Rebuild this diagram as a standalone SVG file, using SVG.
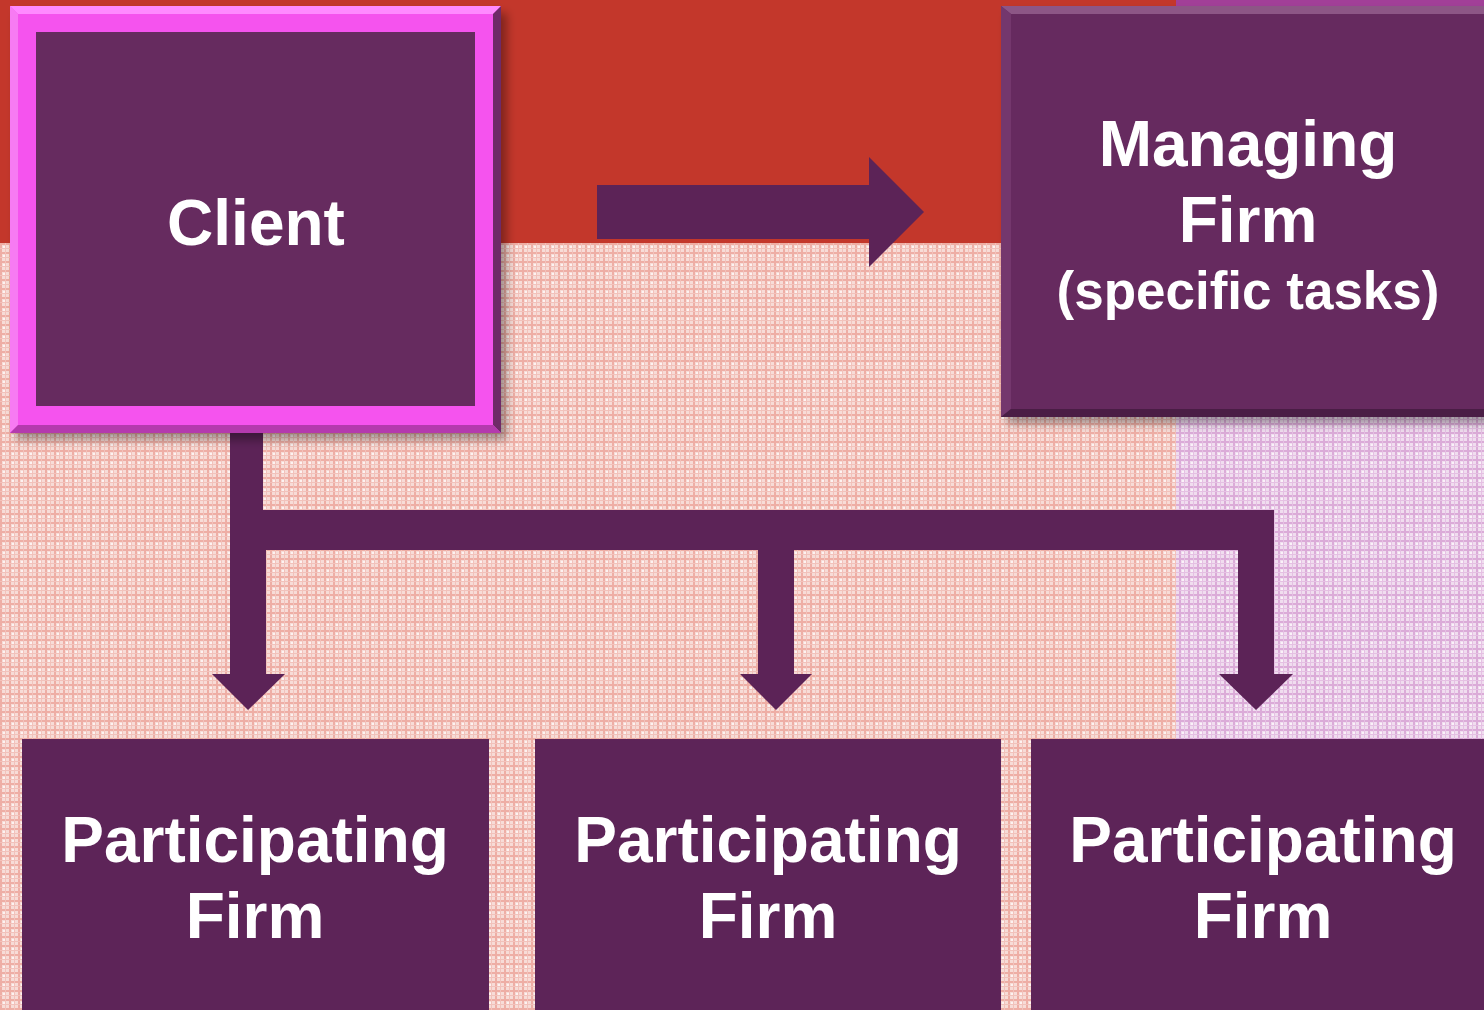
<svg xmlns="http://www.w3.org/2000/svg" width="1484" height="1010" viewBox="0 0 1484 1010">
<defs>
<pattern id="plaidL" width="9" height="9" patternUnits="userSpaceOnUse">
<rect width="9" height="9" fill="#F7DCD7"/>
<rect x="0" y="0" width="9" height="2" fill="#EEAEA5"/>
<rect x="0" y="0" width="2" height="9" fill="#EEAEA5"/>
<rect x="5" y="0" width="1" height="9" fill="#F2C2BB"/>
<rect x="0" y="5" width="9" height="1" fill="#F2C2BB"/>
<rect x="3" y="3" width="2" height="2" fill="#FDF3F1"/>
</pattern>
<pattern id="plaidR" width="9" height="9" patternUnits="userSpaceOnUse">
<rect width="9" height="9" fill="#F0DDEF"/>
<rect x="0" y="0" width="9" height="2" fill="#DBABD8"/>
<rect x="0" y="0" width="2" height="9" fill="#DBABD8"/>
<rect x="5" y="0" width="1" height="9" fill="#E5C0E3"/>
<rect x="0" y="5" width="9" height="1" fill="#E5C0E3"/>
<rect x="3" y="3" width="2" height="2" fill="#FAF2F9"/>
</pattern>
<filter id="shadow" x="-10%" y="-10%" width="130%" height="130%">
<feGaussianBlur in="SourceAlpha" stdDeviation="5"/>
<feOffset dx="6" dy="7" result="b"/>
<feComponentTransfer><feFuncA type="linear" slope="0.35"/></feComponentTransfer>
<feMerge><feMergeNode/><feMergeNode in="SourceGraphic"/></feMerge>
</filter>
<style>
.lbl{font-family:"Liberation Sans",Arial,sans-serif;font-weight:bold;fill:#FFFFFF;text-anchor:middle}
.big{font-size:64px}
.mid{font-size:53px}
.arrow{fill:#5C2357}
.pfirm{fill:#5D2458}
</style>
</defs>

<!-- background -->
<rect x="0" y="0" width="1176" height="243" fill="#C3372B"/>
<rect x="1176" y="0" width="308" height="243" fill="#A23F98"/>
<rect x="0" y="243" width="1176" height="767" fill="url(#plaidL)"/>
<rect x="1176" y="243" width="308" height="767" fill="url(#plaidR)"/>

<!-- connectors -->
<g id="connectors">
<polygon class="arrow" points="597,185 869,185 869,157 924,212 869,267 869,239 597,239"/>
<polygon class="arrow" points="230,433 263,433 263,510 1274,510 1274,674 1293,674 1256,710 1219,674 1238,674 1238,550 794,550 794,674 812,674 776,710 740,674 758,674 758,550 266,550 266,674 285,674 248,710 212,674 230,674"/>
</g>

<!-- Client -->
<g id="client">
<g filter="url(#shadow)">
<rect x="10" y="6" width="491" height="427" fill="#F553EE"/>
</g>
<polygon points="10,6 501,6 493,14 18,14" fill="#FF8AFF"/>
<polygon points="10,6 18,14 18,425 10,433" fill="#F77BF3"/>
<polygon points="501,6 501,433 493,425 493,14" fill="#6E2A68"/>
<polygon points="10,433 18,425 493,425 501,433" fill="#B43AAE"/>
<rect x="36" y="32" width="439" height="374" fill="#662B5F"/>
<text class="lbl big" x="256" y="245">Client</text>
</g>

<!-- Managing Firm -->
<g id="managing">
<g filter="url(#shadow)">
<rect x="1001" y="6" width="500" height="411" fill="#662B5F"/>
</g>
<polygon points="1001,6 1501,6 1501,14 1011,14" fill="#8D5686"/>
<polygon points="1001,6 1011,14 1011,409 1001,417" fill="#74376D"/>
<polygon points="1001,417 1011,409 1501,409 1501,417" fill="#4A1D45"/>
<text class="lbl big" x="1248" y="166">Managing</text>
<text class="lbl big" x="1248" y="242">Firm</text>
<text class="lbl mid" x="1248" y="309">(specific tasks)</text>
</g>

<!-- Participating Firms -->
<g id="participating1">
<rect class="pfirm" x="22" y="739" width="467" height="280"/>
<text class="lbl big" x="255" y="862">Participating</text>
<text class="lbl big" x="255" y="938">Firm</text>
</g>
<g id="participating2">
<rect class="pfirm" x="535" y="739" width="466" height="280"/>
<text class="lbl big" x="768" y="862">Participating</text>
<text class="lbl big" x="768" y="938">Firm</text>
</g>
<g id="participating3">
<rect class="pfirm" x="1031" y="739" width="460" height="280"/>
<text class="lbl big" x="1263" y="862">Participating</text>
<text class="lbl big" x="1263" y="938">Firm</text>
</g>
</svg>
